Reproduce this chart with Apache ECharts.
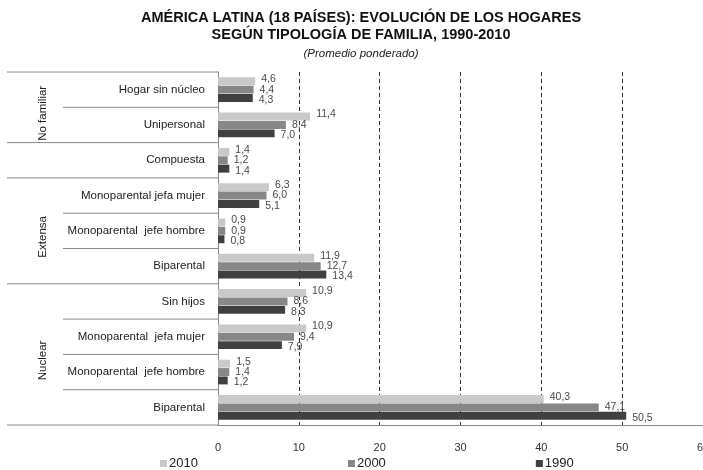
<!DOCTYPE html>
<html>
<head>
<meta charset="utf-8">
<script src="https://cdn.jsdelivr.net/npm/echarts@6/dist/echarts.min.js"></script>
<style>
  html, body { margin: 0; padding: 0; background: #fff; }
  #main { width: 703px; height: 470px; }
</style>
</head>
<body>
<div id="main"></div>
<script>
// tipos de hogar, de arriba a abajo
const categories = [
  'Hogar sin núcleo', 'Unipersonal', 'Compuesta',
  'Monoparental jefa mujer', 'Monoparental  jefe hombre', 'Biparental',
  'Sin hijos', 'Monoparental  jefa mujer', 'Monoparental  jefe hombre', 'Biparental'
];
const years = ['2010', '2000', '1990'];
const v2010 = [4.6, 11.4, 1.4, 6.3, 0.9, 11.9, 10.9, 10.9, 1.5, 40.3];
const v2000 = [4.4, 8.4, 1.2, 6.0, 0.9, 12.7, 8.6, 9.4, 1.4, 47.1];
const v1990 = [4.3, 7.0, 1.4, 5.1, 0.8, 13.4, 8.3, 7.9, 1.2, 50.5];
const xTicks = [0, 10, 20, 30, 40, 50, 60];

// grupos de la columna izquierda (indices de categorias)
const groups = [
  { name: 'No familiar', from: 0, to: 1 },
  { name: 'Extensa', from: 3, to: 5 },
  { name: 'Nuclear', from: 6, to: 9 }
];
const fullLines = [0, 2, 3, 6, 10];
const shortLines = [1, 4, 5, 7, 8, 9];

const colors = ['#c9c9c9', '#878787', '#404040'];
const labelShift = [-2, 0, 2];
const fmt = v => v.toFixed(1).replace('.', ',');

const chart = echarts.init(document.getElementById('main'));

const mkSeries = (name, data, i) => ({
  name: name,
  type: 'bar',
  data: data,
  barGap: '6%',
  barCategoryGap: '30%',
  itemStyle: { color: colors[i] },
  label: {
    show: true,
    position: 'right',
    distance: 6,
    offset: [0, labelShift[i]],
    fontSize: 10.5,
    fontFamily: 'Liberation Sans',
    color: '#4a4a4a',
    formatter: p => fmt(p.value)
  }
});

chart.setOption({
  animation: false,
  title: [
    {
      text: 'AMÉRICA LATINA (18 PAÍSES): EVOLUCIÓN DE LOS HOGARES\nSEGÚN TIPOLOGÍA DE FAMILIA, 1990-2010',
      left: 361, top: 10, textAlign: 'center', padding: 0,
      textStyle: { fontFamily: 'Liberation Sans', fontSize: 14.5, fontWeight: 'bold', color: '#111', lineHeight: 16.5 }
    },
    {
      text: '(Promedio ponderado)',
      left: 361, top: 48, textAlign: 'center', padding: 0,
      textStyle: { fontFamily: 'Liberation Sans', fontSize: 11.5, fontStyle: 'italic', fontWeight: 'normal', color: '#222' }
    }
  ],
  legend: {
    data: years,
    bottom: 0,
    left: 160,
    padding: 0,
    itemWidth: 7,
    itemHeight: 7,
    itemGap: 150,
    icon: 'rect',
    textStyle: { fontFamily: 'Liberation Sans', fontSize: 13, color: '#222', padding: [0, 0, 0, -3] }
  },
  grid: { left: 218, right: 0, top: 72, bottom: 45, containLabel: false, outerBoundsMode: 'none' },
  xAxis: {
    type: 'value',
    min: xTicks[0],
    max: xTicks[xTicks.length - 1],
    interval: 10,
    axisLine: { show: true, lineStyle: { color: '#888' } },
    axisTick: { show: false },
    axisLabel: { fontFamily: 'Liberation Sans', fontSize: 11, color: '#333', margin: 17 },
    splitLine: {
      show: true,
      lineStyle: { color: '#333', type: [4, 3], width: 1 }
    }
  },
  yAxis: {
    type: 'category',
    data: categories,
    inverse: true,
    axisLine: { show: true, lineStyle: { color: '#888' } },
    axisTick: { show: false },
    axisLabel: { fontFamily: 'Liberation Sans', fontSize: 11.5, color: '#222', margin: 13 }
  },
  series: [
    mkSeries(years[0], v2010, 0),
    mkSeries(years[1], v2000, 1),
    mkSeries(years[2], v1990, 2)
  ]
});

// lineas y etiquetas de grupo a la izquierda, a partir de la escala del eje
const y0 = chart.convertToPixel({ yAxisIndex: 0 }, 0);
const step = chart.convertToPixel({ yAxisIndex: 0 }, 1) - y0;
const edge = k => y0 + (k - 0.5) * step;
const axisX = 218;
const graphics = [];
fullLines.forEach(k => graphics.push({
  type: 'line', shape: { x1: 7, y1: edge(k), x2: axisX, y2: edge(k) },
  style: { stroke: '#888', lineWidth: 1 }
}));
shortLines.forEach(k => graphics.push({
  type: 'line', shape: { x1: 63, y1: edge(k), x2: axisX, y2: edge(k) },
  style: { stroke: '#888', lineWidth: 1 }
}));
groups.forEach(g => graphics.push({
  type: 'text',
  x: 43,
  y: (edge(g.from) + edge(g.to + 1)) / 2 + 6,
  rotation: Math.PI / 2,
  style: {
    text: g.name, fill: '#222', font: '11.5px "Liberation Sans"',
    textAlign: 'center', textVerticalAlign: 'middle'
  }
}));
chart.setOption({ graphic: graphics });
</script>
</body>
</html>
